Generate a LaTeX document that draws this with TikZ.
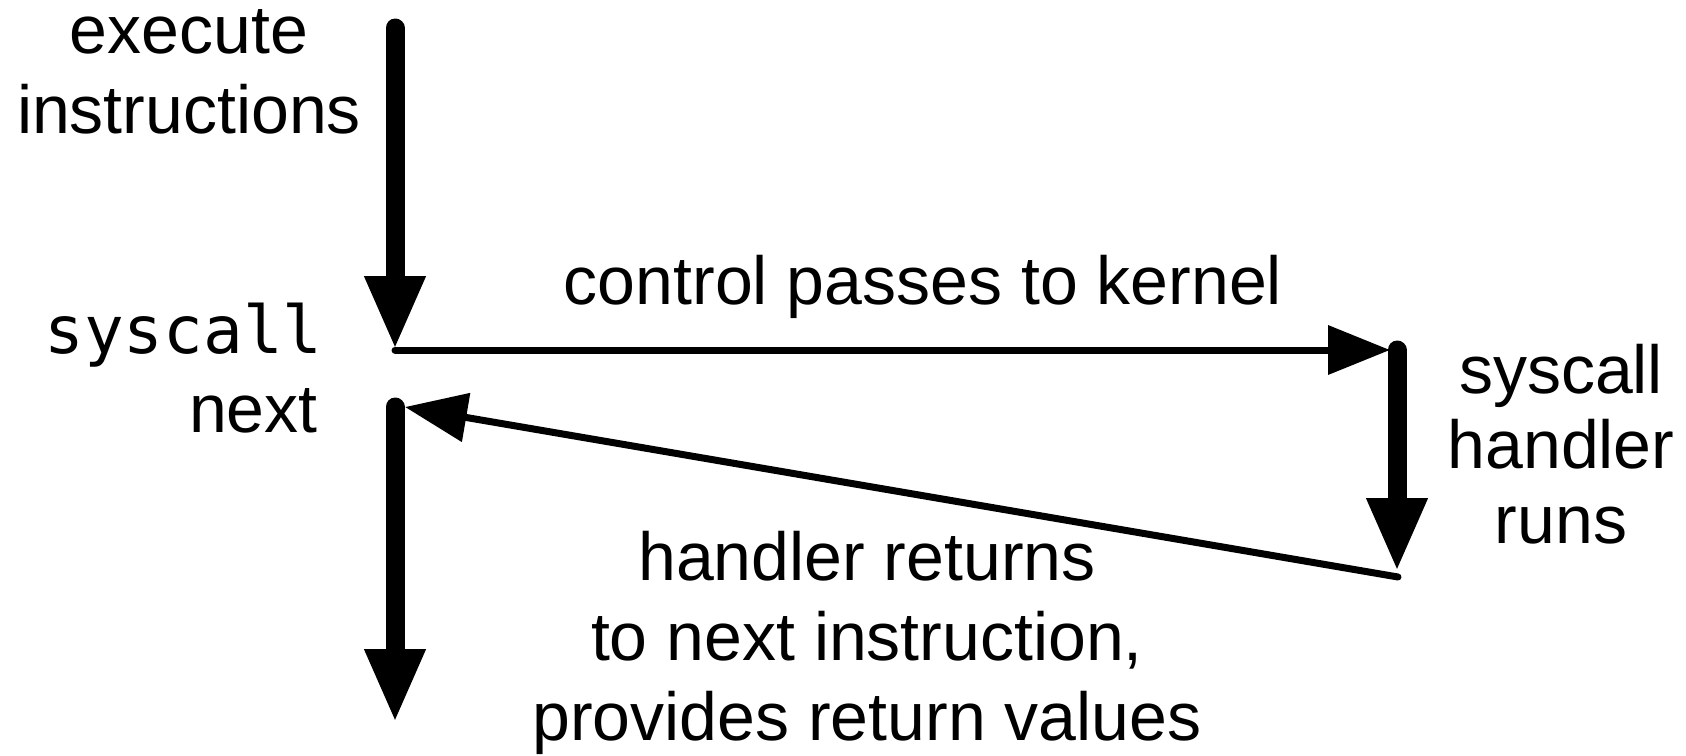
\documentclass[tikz,border=0pt]{standalone}
\usepackage{fontspec}
\setmainfont{Liberation Sans}
\setmonofont{DejaVu Sans Mono}
\usetikzlibrary{arrows.meta}
\begin{document}
\begin{tikzpicture}[x=0.5pt,y=-0.5pt,
  lbl/.style={inner sep=0pt, font=\fontsize{34}{40}\selectfont, align=center},
  lblr/.style={inner sep=0pt, font=\fontsize{34}{37.5}\selectfont, align=center},
  thickarr/.style={line width=9.5pt, line cap=round, -{Triangle[width=28pt,length=37pt]}},
  thinarr/.style={line width=3.5pt, line cap=round, -{Triangle[width=24pt,length=31pt]}}]
\useasboundingbox (0,0) rectangle (1686,755);
% coordinates
\coordinate (exTop) at (395,28);
\coordinate (sysPt) at (395,350);
\coordinate (kIn) at (1390,350);
\coordinate (kTop) at (1397,350);
\coordinate (kEnd) at (1397,572);
\coordinate (kRet) at (1398,577);
\coordinate (nIn) at (405,407);
\coordinate (nTop) at (395,407);
\coordinate (nEnd) at (395,723);
% labels (base anchor = baseline of last line)
\node[lbl, anchor=base] (exec) at (189,133) {execute\\instructions};
\node[lbl, anchor=base east, font=\fontsize{33}{40}\ttfamily] (sysc) at (323,353) {syscall};
\node[lbl, anchor=base east] (next) at (318,432) {next};
\node[lbl, anchor=base] (ctrl) at (923,304) {control passes to kernel};
\node[lblr, anchor=base] (hrun) at (1561,543) {syscall\\handler\\runs};
\node[lbl, anchor=base] (hret) at (867,740) {handler returns\\to next instruction,\\provides return values};
% connectors
\draw[thickarr] (exTop) -- (sysPt);
\draw[thinarr] (sysPt) -- (kIn);
\draw[thickarr] (kTop) -- (kEnd);
\draw[thinarr] (kRet) -- (nIn);
\draw[thickarr] (nTop) -- (nEnd);
\end{tikzpicture}
\end{document}
